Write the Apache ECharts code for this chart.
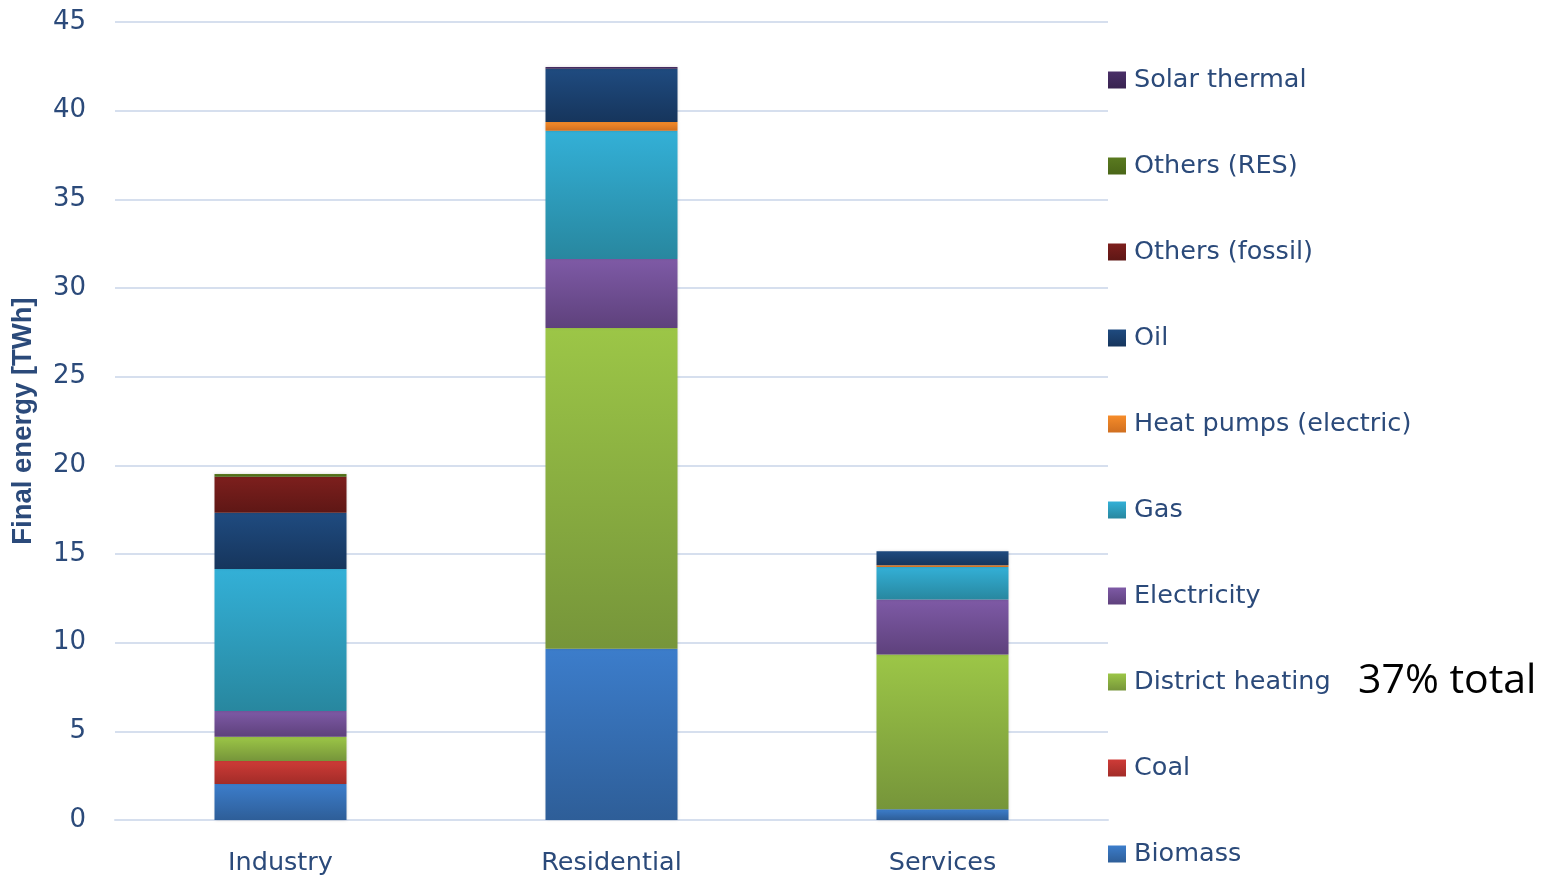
<!DOCTYPE html>
<html><head><meta charset="utf-8">
<script src="https://cdn.jsdelivr.net/npm/echarts@6/dist/echarts.min.js"></script>
<style>html,body{margin:0;padding:0;background:#fff}#c{width:1552px;height:876px}</style>
</head><body><div id="c"></div>
<script>
const categories = ['Industry', 'Residential', 'Services'];
const seriesNames = ['Biomass', 'Coal', 'District heating', 'Electricity', 'Gas', 'Heat pumps (electric)', 'Oil', 'Others (fossil)', 'Others (RES)', 'Solar thermal'];
const biomass      = [2.03, 9.65, 0.6];
const coal         = [1.3, 0, 0];
const districtHeat = [1.37, 18.1, 8.73];
const electricity  = [1.45, 3.89, 3.1];
const gas          = [8.0, 7.23, 1.84];
const heatPumps    = [0, 0.49, 0.1];
const oil          = [3.18, 3.0, 0.79];
const othersFossil = [2.03, 0, 0];
const othersRES    = [0.15, 0, 0];
const solarThermal = [0, 0.1, 0];
const yTicks = [0, 5, 10, 15, 20, 25, 30, 35, 40, 45];
const annotation = '37% total';

const values = [biomass, coal, districtHeat, electricity, gas, heatPumps, oil, othersFossil, othersRES, solarThermal];
const flat = ['#3A78C3','#C73633','#94BD45','#7D59A3','#2FAACF','#F08A2B','#1F4673','#7A1C1A','#4F6B1D','#3B2556'];
const grad = [
  ['#3C7DCB','#2E5E98'],['#CE3B37','#A22C28'],['#9CC647','#76953A'],['#7E5AA6','#5E417C'],
  ['#33B0D7','#28879F'],['#F68C2A','#D06F20'],['#1F4B80','#16355C'],['#7D1F1D','#5E1715'],
  ['#5A7A20','#4A6618'],['#4A2F68','#382350']
];
const txt = '#2B4A7A';
const chart = echarts.init(document.getElementById('c'));
chart.setOption({
  animation: false,
  backgroundColor: '#fff',
  grid: {left: 115, right: 444, top: 22, bottom: 56},
  legend: {
    orient: 'vertical', left: 1108, top: 65, height: 830, padding: 0,
    data: seriesNames.slice().reverse(),
    itemWidth: 18, itemHeight: 17, itemGap: 56,
    icon: 'rect',
    textStyle: {color: txt, fontSize: 25.5, fontFamily: 'DejaVu Sans', lineHeight: 30, padding: [0,0,0,3]},
    selectedMode: false
  },
  xAxis: {
    type: 'category', data: categories,
    axisLine: {lineStyle: {color: '#D6DFEE', width: 2}},
    axisTick: {show: false},
    axisLabel: {color: txt, fontSize: 25.5, fontFamily: 'DejaVu Sans', margin: 30}
  },
  yAxis: {
    type: 'value', min: 0, max: 45, interval: 5,
    name: 'Final energy [TWh]', nameLocation: 'middle', nameGap: 78,
    nameTextStyle: {color: txt, fontSize: 27.5, fontWeight: 'bold', fontFamily: 'Liberation Sans Narrow, Liberation Sans'},
    axisLine: {show: false}, axisTick: {show: false},
    splitLine: {lineStyle: {color: '#D6DFEE', width: 2}},
    axisLabel: {color: txt, fontSize: 26, fontFamily: 'DejaVu Sans', margin: 29,
      formatter: v => yTicks.includes(v) ? String(v) : ''}
  },
  graphic: [{
    type: 'text', left: 1358, top: 661,
    style: {text: annotation, fontSize: 41, fontFamily: 'Open Sans', fill: '#000'}
  }],
  series: values.map((vals, i) => ({
    name: seriesNames[i], type: 'bar', stack: 'total', barWidth: 132,
    data: vals,
    color: flat[i],
    itemStyle: {
      color: new echarts.graphic.LinearGradient(0, 0, 0, 1, [{offset: 0, color: grad[i][0]}, {offset: 1, color: grad[i][1]}]),
      shadowColor: 'rgba(0,0,0,0.18)', shadowBlur: 3
    }
  }))
});
</script></body></html>
